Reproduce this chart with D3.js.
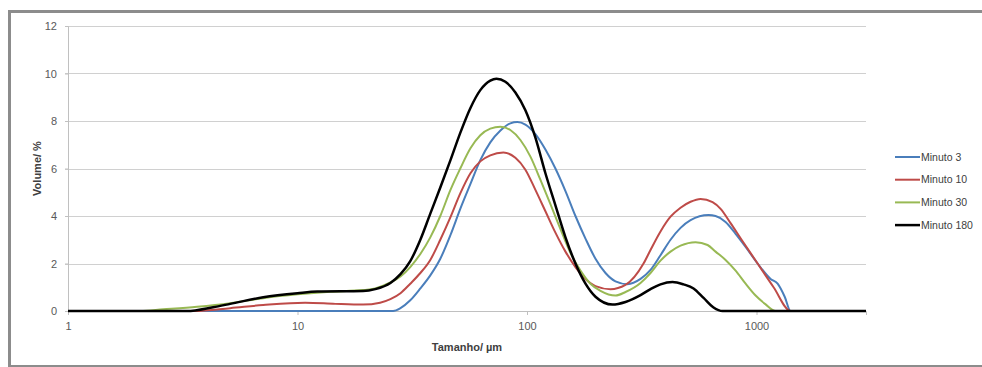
<!DOCTYPE html>
<html>
<head>
<meta charset="utf-8">
<script src="https://cdn.jsdelivr.net/npm/d3@7"></script>
<style>
  body { margin: 0; background: #fff; }
  text { font-family: 'Liberation Sans', Arial, sans-serif; }
</style>
</head>
<body>
<div class="chart"></div>
<script>
// particle size (µm) and volume (%)
const sizes3 = [1, 26.1, 28.1, 31.0, 34.3, 37.9, 41.9, 46.4, 51.2, 56.7, 62.6, 69.2, 76.6, 84.6, 90.8, 98.4, 108.8, 120.3, 133, 147.1, 162.6, 179.8, 198.8, 219.8, 242.9, 274.1, 312.4, 345.3, 381.7, 422.1, 466.7, 516, 618.2, 663.2, 733.2, 810.9, 896.5, 1011, 1152, 1236, 1327, 1408, 3000];
const vol3   = [0, 0, 0.12, 0.45, 0.95, 1.5, 2.2, 3.2, 4.3, 5.35, 6.35, 7.1, 7.6, 7.9, 7.96, 7.85, 7.45, 6.8, 6.0, 5.05, 4.0, 3.05, 2.2, 1.6, 1.25, 1.13, 1.35, 1.73, 2.35, 3.0, 3.5, 3.83, 4.04, 4.0, 3.75, 3.25, 2.7, 2.0, 1.35, 1.15, 0.6, 0, 0];

const sizes10 = [1, 3.58, 5.09, 7.09, 10.8, 14.6, 19.3, 22.9, 25.4, 28.1, 31.0, 34.3, 37.9, 41.9, 46.4, 51.2, 56.7, 62.6, 69.2, 78.9, 89.0, 98.4, 108.8, 120.3, 133, 147.1, 162.6, 179.8, 198.8, 231, 268.6, 321.9, 345.3, 381.7, 422.1, 466.7, 516, 570.5, 643.5, 697.5, 770.9, 860.9, 1011, 1187, 1408, 3000];
const vol10   = [0, 0, 0.12, 0.25, 0.35, 0.3, 0.27, 0.35, 0.5, 0.75, 1.15, 1.6, 2.15, 3.0, 3.95, 4.95, 5.8, 6.3, 6.55, 6.67, 6.45, 5.95, 5.1, 4.2, 3.3, 2.5, 1.85, 1.35, 1.05, 0.92, 1.1, 2, 2.57, 3.35, 3.97, 4.35, 4.6, 4.72, 4.58, 4.3, 3.7, 3.0, 2.0, 1.0, 0, 0];

const sizes30 = [1, 2.06, 2.60, 3.65, 5.09, 7.09, 10, 13.9, 19.3, 21.8, 25.4, 28.1, 31.0, 34.3, 37.9, 41.9, 46.4, 51.2, 56.7, 62.6, 69.2, 76.6, 84.6, 93.6, 103.5, 114.1, 126.5, 139.9, 154.6, 171.0, 189, 209, 242.9, 268.6, 312.4, 345.3, 381.7, 422.1, 466.7, 542.6, 612.1, 663.2, 733.2, 810.9, 896.5, 991, 1096, 1211, 3000];
const vol30   = [0, 0, 0.07, 0.18, 0.33, 0.54, 0.7, 0.81, 0.88, 0.95, 1.2, 1.45, 1.85, 2.4, 3.1, 4.0, 5.1, 6.0, 6.85, 7.4, 7.68, 7.76, 7.62, 7.2, 6.5, 5.55, 4.5, 3.45, 2.45, 1.7, 1.15, 0.85, 0.65, 0.8, 1.18, 1.6, 2.12, 2.5, 2.75, 2.9, 2.78, 2.5, 2.15, 1.7, 1.15, 0.65, 0.28, 0, 0];

const sizes180 = [1, 3.30, 4.29, 5.09, 7.09, 10, 12.2, 19.3, 21.8, 25.4, 28.1, 31.0, 34.3, 37.9, 41.9, 46.4, 51.2, 56.7, 62.6, 69.2, 73.6, 80.5, 89.0, 98.4, 108.8, 120.3, 133, 147.1, 162.6, 179.8, 198.8, 235.7, 268.6, 312.4, 345.3, 381.7, 430.6, 481, 531.8, 588, 649.9, 711.4, 3000];
const vol180   = [0, 0, 0.16, 0.3, 0.58, 0.75, 0.82, 0.84, 0.92, 1.18, 1.55, 2.1, 3.0, 4.1, 5.2, 6.35, 7.5, 8.55, 9.3, 9.7, 9.78, 9.65, 9.2, 8.45, 7.3, 5.8, 4.45, 3.1, 2.0, 1.15, 0.6, 0.27, 0.38, 0.67, 0.92, 1.12, 1.22, 1.12, 0.95, 0.55, 0.15, 0, 0];

const seriesNames = ['Minuto 3', 'Minuto 10', 'Minuto 30', 'Minuto 180'];
const yTicks = [0, 2, 4, 6, 8, 10, 12];
const xTicks = [1, 10, 100, 1000];

const colors = ['#4a7ebb', '#be4b48', '#98b954', '#000000'];
const widths = [2, 2, 2, 2.5];

const series = [
  { name: seriesNames[0], x: sizes3, y: vol3 },
  { name: seriesNames[1], x: sizes10, y: vol10 },
  { name: seriesNames[2], x: sizes30, y: vol30 },
  { name: seriesNames[3], x: sizes180, y: vol180 },
].map(s => ({ name: s.name, values: s.x.map((d, i) => ({ size: d, vol: s.y[i] })) }));

const margin = { top: 26, left: 68 };
const width = 798;
const height = 285;

const svg = d3.select('.chart').append('svg')
    .attr('width', 982)
    .attr('height', 367);

// outer frame
svg.append('rect')
    .attr('x', 9.5)
    .attr('y', 11.5)
    .attr('width', 990)
    .attr('height', 355)
    .attr('fill', 'none')
    .attr('stroke', '#8c8c8c')
    .attr('stroke-width', 3);

const g = svg.append('g')
    .attr('transform', `translate(${margin.left}, ${margin.top})`);

const x = d3.scaleLog().domain([1, 3000]).range([0, width]);
const y = d3.scaleLinear().domain([0, 12]).range([height, 0]);

// gridlines
g.append('g')
  .selectAll('line')
    .data(yTicks.filter(d => d > 0))
  .enter().append('line')
    .attr('x1', -3)
    .attr('x2', width)
    .attr('y1', d => Math.round(y(d)) + 0.5)
    .attr('y2', d => Math.round(y(d)) + 0.5)
    .attr('stroke', '#d0d0d0');

const yAxis = g.append('g')
    .call(d3.axisLeft(y).tickValues(yTicks).tickSize(3).tickPadding(8));
const xAxis = g.append('g')
    .attr('transform', `translate(0, ${height})`)
    .call(d3.axisBottom(x).tickValues(xTicks).tickFormat(d3.format('d')).tickSize(4).tickPadding(7));

[yAxis, xAxis].forEach(a => {
  a.selectAll('.domain').attr('stroke', '#c0c0c0');
  a.selectAll('.tick line').attr('stroke', '#c0c0c0');
  a.selectAll('.tick text')
      .attr('fill', '#595959')
      .style('font-size', '11px')
      .style('font-family', "'Liberation Sans', Arial, sans-serif");
});

const line = d3.line()
    .x(d => x(d.size))
    .y(d => y(d.vol))
    .curve(d3.curveMonotoneX);

g.selectAll('.series')
    .data(series)
  .enter().append('path')
    .attr('class', 'series')
    .attr('fill', 'none')
    .attr('stroke', (d, i) => colors[i])
    .attr('stroke-width', (d, i) => widths[i])
    .attr('stroke-linejoin', 'round')
    .attr('d', d => line(d.values));

// axis titles
svg.append('text')
    .attr('transform', 'rotate(-90)')
    .attr('x', -(margin.top + height / 2))
    .attr('y', 41)
    .attr('text-anchor', 'middle')
    .attr('fill', '#404040')
    .style('font-size', '11px')
    .style('font-weight', 'bold')
    .text('Volume/ %');

svg.append('text')
    .attr('x', margin.left + width / 2)
    .attr('y', 351)
    .attr('text-anchor', 'middle')
    .attr('fill', '#404040')
    .style('font-size', '11px')
    .style('font-weight', 'bold')
    .text('Tamanho/ µm');

// legend
const legend = svg.append('g')
    .attr('transform', 'translate(895, 157)');

const item = legend.selectAll('.item')
    .data(series)
  .enter().append('g')
    .attr('class', 'item')
    .attr('transform', (d, i) => `translate(0, ${i * 22.7})`);

item.append('line')
    .attr('x1', 0)
    .attr('x2', 25)
    .attr('stroke', (d, i) => colors[i])
    .attr('stroke-width', (d, i) => widths[i]);

item.append('text')
    .attr('x', 26)
    .attr('dy', '0.35em')
    .attr('fill', '#404040')
    .style('font-size', '10.5px')
    .text(d => d.name);
</script>
</body>
</html>
